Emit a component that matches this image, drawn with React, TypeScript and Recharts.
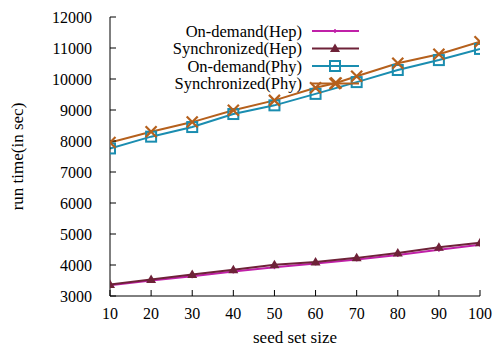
import React from "react";
import {
  LineChart,
  Line,
  XAxis,
  YAxis,
  Legend,
  Label,
} from "recharts";

const seedSizes = [10, 20, 30, 40, 50, 60, 70, 80, 90, 100];
const onDemandHep = [3350, 3500, 3640, 3790, 3930, 4050, 4180, 4320, 4490, 4650];
const syncHep = [3370, 3530, 3690, 3850, 4010, 4100, 4230, 4390, 4570, 4720];
const onDemandPhy = [7760, 8140, 8450, 8870, 9150, 9520, 9900, 10290, 10610, 10970];
const syncPhySizes = [10, 20, 30, 40, 50, 60, 65, 70, 80, 90, 100];
const syncPhy = [7950, 8300, 8610, 8990, 9310, 9720, 9870, 10090, 10510, 10800, 11200];

const xTicks = [10, 20, 30, 40, 50, 60, 70, 80, 90, 100];
const yTicks = [3000, 4000, 5000, 6000, 7000, 8000, 9000, 10000, 11000, 12000];

const toRows = (xs: number[], ys: number[]) => xs.map((x, i) => ({ x, y: ys[i] }));

const series = [
  { name: "On-demand(Hep)", color: "#c020a8", marker: "plus", data: toRows(seedSizes, onDemandHep) },
  { name: "Synchronized(Hep)", color: "#6e2238", marker: "triangle", data: toRows(seedSizes, syncHep) },
  { name: "On-demand(Phy)", color: "#1a8db0", marker: "square", data: toRows(seedSizes, onDemandPhy) },
  { name: "Synchronized(Phy)", color: "#b5601c", marker: "cross", data: toRows(syncPhySizes, syncPhy) },
];

const FONT = "'Liberation Serif', 'Times New Roman', serif";

function Marker({ type, cx, cy, color }: { type: string; cx: number; cy: number; color: string }) {
  if (cx == null || cy == null) return null;
  if (type === "plus") {
    return (
      <g stroke={color} strokeWidth={1.5}>
        <line x1={cx - 2} y1={cy} x2={cx + 2} y2={cy} />
        <line x1={cx} y1={cy - 2} x2={cx} y2={cy + 2} />
      </g>
    );
  }
  if (type === "triangle") {
    return (
      <polygon
        points={`${cx},${cy - 5} ${cx - 5},${cy + 3.5} ${cx + 5},${cy + 3.5}`}
        fill={color}
      />
    );
  }
  if (type === "square") {
    return (
      <rect x={cx - 5} y={cy - 5} width={10} height={10} fill="none" stroke={color} strokeWidth={2} />
    );
  }
  return (
    <g stroke={color} strokeWidth={2.2}>
      <line x1={cx - 5.5} y1={cy - 5.5} x2={cx + 5.5} y2={cy + 5.5} />
      <line x1={cx - 5.5} y1={cy + 5.5} x2={cx + 5.5} y2={cy - 5.5} />
    </g>
  );
}

function makeDot(type: string, color: string) {
  return (props: any) => (
    <Marker key={`${type}-${props.index}`} type={type} cx={props.cx} cy={props.cy} color={color} />
  );
}

function LegendBox() {
  return (
    <svg width={360} height={80} style={{ overflow: "visible" }}>
      {series.map((s, i) => {
        const y = 9 + i * 17.5;
        return (
          <g key={s.name}>
            <text
              x={294}
              y={y}
              textAnchor="end"
              dominantBaseline="central"
              fontFamily={FONT}
              fontSize={16.5}
              fill="#000"
            >
              {s.name}
            </text>
            <line x1={304} y1={y} x2={351} y2={y} stroke={s.color} strokeWidth={2} />
            <Marker type={s.marker} cx={327} cy={y} color={s.color} />
          </g>
        );
      })}
    </svg>
  );
}

export default function App() {
  const tickStyle = { fontFamily: FONT, fontSize: 16, fill: "#000" };
  return (
    <div style={{ position: "absolute", left: 0, top: 0, background: "#fff" }}>
      <LineChart width={494} height={347} margin={{ top: 17, right: 14, bottom: 0, left: 0 }}>
        <XAxis
          xAxisId="bottom"
          dataKey="x"
          type="number"
          domain={[10, 100]}
          ticks={xTicks}
          allowDataOverflow
          height={51}
          stroke="#000"
          tickSize={-6}
          tickMargin={18}
          tick={tickStyle}
          interval={0}
        >
          <Label
            value="seed set size"
            position="insideBottom"
            offset={4}
            style={{ fontFamily: FONT, fontSize: 17, fill: "#000" }}
          />
        </XAxis>
        <XAxis
          xAxisId="top"
          dataKey="x"
          type="number"
          orientation="top"
          domain={[10, 100]}
          ticks={xTicks}
          height={0}
          stroke="#000"
          tickSize={-6}
          tick={false}
        />
        <YAxis
          yAxisId="left"
          type="number"
          domain={[3000, 12000]}
          ticks={yTicks}
          width={110}
          stroke="#000"
          tickSize={-6}
          tickMargin={24}
          tick={tickStyle}
          interval={0}
        >
          <Label
            value="run time(in sec)"
            angle={-90}
            position="insideLeft"
            offset={17}
            style={{ fontFamily: FONT, fontSize: 17, fill: "#000", textAnchor: "middle" }}
          />
        </YAxis>
        <YAxis
          yAxisId="right"
          type="number"
          orientation="right"
          domain={[3000, 12000]}
          ticks={yTicks}
          width={0}
          stroke="#000"
          tickSize={-6}
          tick={false}
        />
        <Legend
          layout="vertical"
          align="center"
          verticalAlign="middle"
          wrapperStyle={{ position: "absolute", left: 8, top: 22, width: 360, height: 80 }}
          content={() => <LegendBox />}
        />
        {series.map((s) => (
          <Line
            key={s.name}
            xAxisId="bottom"
            yAxisId="left"
            data={s.data}
            dataKey="y"
            name={s.name}
            stroke={s.color}
            strokeWidth={2}
            dot={makeDot(s.marker, s.color)}
            activeDot={false}
            isAnimationActive={false}
          />
        ))}
      </LineChart>
    </div>
  );
}
